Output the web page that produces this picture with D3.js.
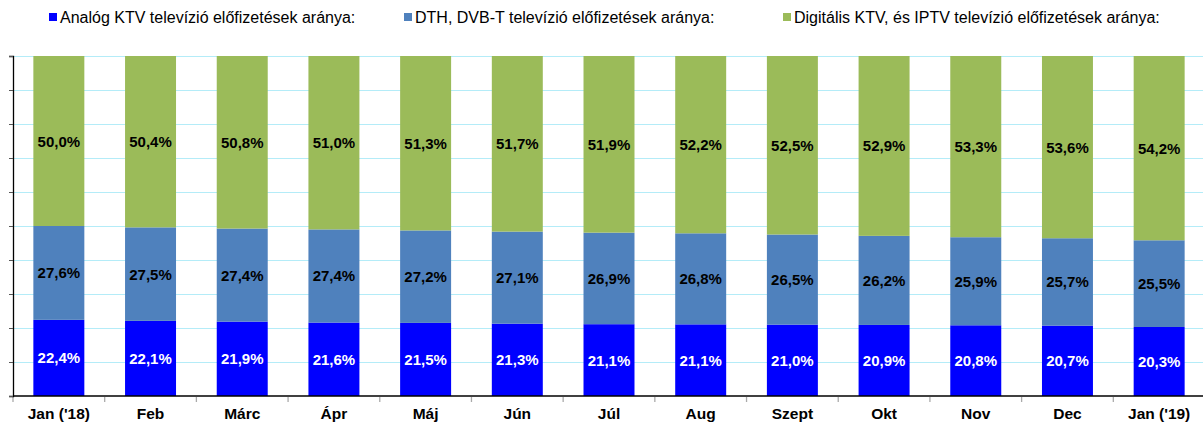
<!DOCTYPE html>
<html lang="hu">
<head>
<meta charset="UTF-8">
<title>Előfizetések aránya</title>
<style>
  body { margin: 0; background: #fff; }
  svg { display: block; font-family: "Liberation Sans", Arial, sans-serif; }
  .legend text { font-size: 16px; fill: #000; }
  .xAxis text { font-size: 15.5px; font-weight: bold; fill: #000; }
  .lbl { font-size: 15px; font-weight: bold; }
</style>
</head>
<body>
<svg id="chart"></svg>
<script src="https://cdn.jsdelivr.net/npm/d3@7/dist/d3.min.js"></script>
<script>
// adatok
var months = ["Jan ('18)", "Feb", "Márc", "Ápr", "Máj", "Jún", "Júl", "Aug", "Szept", "Okt", "Nov", "Dec", "Jan ('19)"];
var analog = [22.4, 22.1, 21.9, 21.6, 21.5, 21.3, 21.1, 21.1, 21.0, 20.9, 20.8, 20.7, 20.3];
var dth = [27.6, 27.5, 27.4, 27.4, 27.2, 27.1, 26.9, 26.8, 26.5, 26.2, 25.9, 25.7, 25.5];
var digital = [50.0, 50.4, 50.8, 51.0, 51.3, 51.7, 51.9, 52.2, 52.5, 52.9, 53.3, 53.6, 54.2];
var seriesNames = ["Analóg KTV televízió előfizetések aránya:", "DTH, DVB-T televízió előfizetések aránya:", "Digitális KTV, és IPTV televízió előfizetések aránya:"];
var yTicks = [0, 0.1, 0.2, 0.3, 0.4, 0.5, 0.6, 0.7, 0.8, 0.9, 1];

var colors = ["#0000ff", "#4f81bd", "#9bbb59"];
var labelColors = ["#fff", "#000", "#000"];

var w = 1203, h = 423;
var svg = d3.select("#chart").attr("width", w).attr("height", h);
var padding = {top: 56, left: 13, right: -2, bottom: 27};

var rows = months.map(function(m, i) {
  return {month: m, s0: analog[i], s1: dth[i], s2: digital[i]};
});
var stacked = d3.stack().keys(["s0", "s1", "s2"]).offset(d3.stackOffsetExpand)(rows);

var xScale = d3.scaleBand()
  .domain(months)
  .range([padding.left, w - padding.right])
  .paddingInner(0.444)
  .paddingOuter(0.222);

var yScale = d3.scaleLinear()
  .domain([0, 1])
  .range([h - padding.bottom, padding.top]);

// rácsvonalak
svg.append("g")
  .selectAll("line")
  .data(yTicks.slice(1))
  .enter().append("line")
  .attr("x1", padding.left)
  .attr("x2", w)
  .attr("y1", function(d) { return Math.round(yScale(d)) + 0.5; })
  .attr("y2", function(d) { return Math.round(yScale(d)) + 0.5; })
  .attr("stroke", "#b4ecf8")
  .attr("stroke-width", 1.2);

// oszlopok
var layers = svg.append("g").selectAll("g")
  .data(stacked)
  .enter().append("g")
  .attr("fill", function(d, i) { return colors[i]; });

layers.selectAll("rect")
  .data(function(d) { return d; })
  .enter().append("rect")
  .attr("x", function(d) { return xScale(d.data.month); })
  .attr("width", xScale.bandwidth())
  .attr("y", function(d) { return yScale(d[1]); })
  .attr("height", function(d) { return yScale(d[0]) - yScale(d[1]); });

// címkék
var keys = ["s0", "s1", "s2"];
stacked.forEach(function(layer, k) {
  svg.append("g").selectAll("text")
    .data(layer)
    .enter().append("text")
    .attr("class", "lbl")
    .attr("x", function(d) { return xScale(d.data.month) + xScale.bandwidth() / 2; })
    .attr("y", function(d) { return (yScale(d[0]) + yScale(d[1])) / 2 + 5.5; })
    .attr("text-anchor", "middle")
    .attr("fill", labelColors[k])
    .text(function(d) { return d.data[keys[k]].toFixed(1).replace(".", ",") + "%"; });
});

// X tengely
var step = xScale.step();
var xg = svg.append("g")
  .attr("class", "xAxis")
  .attr("transform", "translate(0," + yScale(0) + ")");
xg.append("line")
  .attr("x1", padding.left).attr("x2", w)
  .attr("stroke", "#000").attr("stroke-width", 1.3);
xg.selectAll("line.tk")
  .data(d3.range(months.length + 1))
  .enter().append("line")
  .attr("class", "tk")
  .attr("x1", function(i) { return padding.left + i * step; })
  .attr("x2", function(i) { return padding.left + i * step; })
  .attr("y1", 1).attr("y2", 6)
  .attr("stroke", "#aaa").attr("stroke-width", 1.3);
xg.selectAll("text")
  .data(months)
  .enter().append("text")
  .attr("x", function(d) { return xScale(d) + xScale.bandwidth() / 2; })
  .attr("y", 23)
  .attr("text-anchor", "middle")
  .text(function(d) { return d; });

// Y tengely
var yAxis = d3.axisLeft(yScale).tickValues(yTicks).tickSize(4).tickFormat("");
svg.append("g")
  .attr("transform", "translate(" + padding.left + ",0)")
  .call(yAxis)
  .call(function(g) {
    g.select(".domain").attr("stroke", "#000").attr("stroke-width", 1.3);
    g.selectAll(".tick line").attr("stroke", "#555");
  });

// jelmagyarázat
var legendX = [49, 404, 783];
var legend = svg.append("g").attr("class", "legend");
seriesNames.forEach(function(name, i) {
  legend.append("rect")
    .attr("x", legendX[i]).attr("y", 13)
    .attr("width", 8).attr("height", 8)
    .attr("fill", colors[i]);
  legend.append("text")
    .attr("x", legendX[i] + 11).attr("y", 23)
    .text(name);
});
</script>
</body>
</html>
